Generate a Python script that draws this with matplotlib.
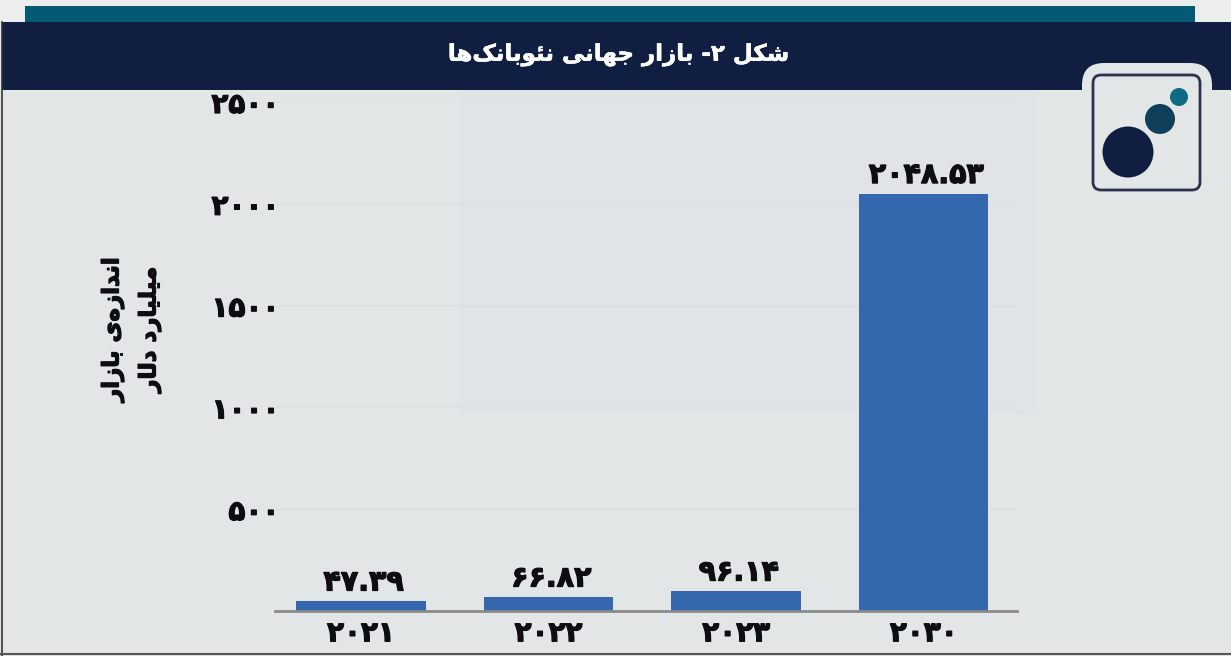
"""
شکل ۲ - بازار جهانی نئوبانک‌ها
"""
import matplotlib
matplotlib.use('Agg')
from matplotlib import pyplot as plt
from matplotlib import patheffects as pe
from matplotlib.patches import Circle, FancyBboxPatch, Rectangle

years = ['۲۰۲۱', '۲۰۲۲', '۲۰۲۳', '۲۰۳۰']
values = [47.39, 66.82, 96.14, 2048.53]
y_ticks = [500, 1000, 1500, 2000, 2500]

title = 'شکل ۲- بازار جهانی نئوبانک\u200cها'
y_label_1 = 'اندازه\u200cی بازار'
y_label_2 = 'میلیارد دلار'

W, H = 1231, 656
BG = '#e3e6e6'
NAVY = '#101e42'
TEAL = '#045a73'
BAR = '#3467ac'
INK = '#0d0d12'

# matplotlib does not shape arabic, so map letters to presentation forms
# letter: isolated, final, initial, medial (two forms = does not join forward)
forms = {
    'ا': '\uFE8D\uFE8E', 'د': '\uFEA9\uFEAA', 'ر': '\uFEAD\uFEAE',
    'ز': '\uFEAF\uFEB0', 'و': '\uFEED\uFEEE',
    'ب': '\uFE8F\uFE90\uFE91\uFE92', 'ج': '\uFE9D\uFE9E\uFE9F\uFEA0',
    'ش': '\uFEB5\uFEB6\uFEB7\uFEB8', 'ل': '\uFEDD\uFEDE\uFEDF\uFEE0',
    'م': '\uFEE1\uFEE2\uFEE3\uFEE4', 'ن': '\uFEE5\uFEE6\uFEE7\uFEE8',
    'ه': '\uFEE9\uFEEA\uFEEB\uFEEC', 'ئ': '\uFE89\uFE8A\uFE8B\uFE8C',
    'ک': '\uFB8E\uFB8F\uFB90\uFB91', 'ی': '\uFBFC\uFBFD\uFBFE\uFBFF',
}


def shape(text):
    out = []
    for i, c in enumerate(text):
        if c not in forms:
            if c != '\u200c':
                out.append(c)
            continue
        prev = text[i - 1] if i > 0 else ''
        nxt = text[i + 1] if i + 1 < len(text) else ''
        joins_prev = prev in forms and len(forms[prev]) == 4
        joins_next = nxt in forms and len(forms[c]) == 4
        if joins_prev and joins_next:
            out.append(forms[c][3])
        elif joins_next:
            out.append(forms[c][2])
        elif joins_prev:
            out.append(forms[c][1])
        else:
            out.append(forms[c][0])
    return ''.join(out[::-1])


def fa_digits(s):
    return str(s).translate(str.maketrans('0123456789', '۰۱۲۳۴۵۶۷۸۹'))


# the reference lettering is heavier than DejaVu Bold
heavy = [pe.withStroke(linewidth=0.9, foreground=INK)]

plt.rcParams['font.family'] = ['DejaVu Sans']
fig = plt.figure(figsize=(W / 100, H / 100), dpi=100, facecolor=BG)

# page furniture in pixel coordinates
bg = fig.add_axes([0, 0, 1, 1], zorder=0)
bg.set_xlim(0, W)
bg.set_ylim(H, 0)
bg.axis('off')
bg.add_patch(Rectangle((460, 90), 575, 325, fc='#e1e4e7', ec='none'))
bg.add_patch(Rectangle((0, 0), W, 22, fc='#eceeee', ec='none'))
bg.add_patch(Rectangle((25, 6), 1170, 17, fc=TEAL, ec='none'))
bg.add_patch(Rectangle((2, 22), W, 68, fc=NAVY, ec='none'))
bg.plot([2, 2], [22, H], color='#333333', lw=1.2)
bg.plot([0, W], [654, 654], color='#555555', lw=1.5)
bg.text(618, 55, shape(title), color='white', fontsize=16.5, fontweight='bold',
        ha='center', va='center',
        path_effects=[pe.withStroke(linewidth=0.4, foreground='white')])
bg.text(113, 330, shape(y_label_1), color=INK, fontsize=16.5, fontweight='bold',
        rotation=90, ha='center', va='center', path_effects=heavy)
bg.text(150, 330, shape(y_label_2), color=INK, fontsize=16.5, fontweight='bold',
        rotation=90, ha='center', va='center', path_effects=heavy)

# chart
ax = fig.add_axes([275 / W, 1 - 611 / H, (1017 - 275) / W, (611 - 102) / H],
                  zorder=1, facecolor='none')
x = list(range(len(years)))
bars = ax.bar(x, values, width=0.69, color=BAR, zorder=3)
ax.set_xlim(-0.458, 3.497)
ax.set_ylim(0, 2500)
ax.set_xticks(x)
ax.set_xticklabels(years)
ax.set_yticks(y_ticks)
ax.set_yticklabels([fa_digits(v) for v in y_ticks])
ax.tick_params(length=0, labelcolor=INK)
ax.tick_params(axis='x', pad=6, labelsize=20)
ax.tick_params(axis='y', pad=-3, labelsize=20)
for lab in ax.get_xticklabels() + ax.get_yticklabels():
    lab.set_fontweight('bold')
    lab.set_path_effects(heavy)
ax.grid(axis='y', color='#dfe2e2', lw=1.5, zorder=1)
for side in ['top', 'right', 'left']:
    ax.spines[side].set_visible(False)
ax.spines['bottom'].set_color('#8a8a8a')
ax.spines['bottom'].set_linewidth(2)
ax.spines['bottom'].set_zorder(4)

for b, v in zip(bars, values):
    ax.annotate(fa_digits(f'{v:.2f}'), (b.get_x() + b.get_width() / 2, v),
                xytext=(2, 3.5), textcoords='offset points', ha='center', va='bottom',
                fontsize=20.5, fontweight='bold', color=INK, path_effects=heavy)

# logo
top = fig.add_axes([0, 0, 1, 1], zorder=2, facecolor='none')
top.set_xlim(0, W)
top.set_ylim(H, 0)
top.axis('off')
top.add_patch(FancyBboxPatch((1094, 75), 106, 126, boxstyle='round,pad=12,rounding_size=22',
                             fc=BG, ec='none'))
top.add_patch(FancyBboxPatch((1093, 75), 107, 115, boxstyle='round,pad=0,rounding_size=8',
                             fc=BG, ec='#2c3350', lw=2))
top.add_patch(Circle((1128, 152), 25.5, fc=NAVY, ec='none'))
top.add_patch(Circle((1160, 119), 15, fc='#103f5c', ec='none'))
top.add_patch(Circle((1179, 97), 9, fc='#0f6a83', ec='none'))

plt.savefig('out.png', dpi=100, facecolor=BG)
plt.close()
